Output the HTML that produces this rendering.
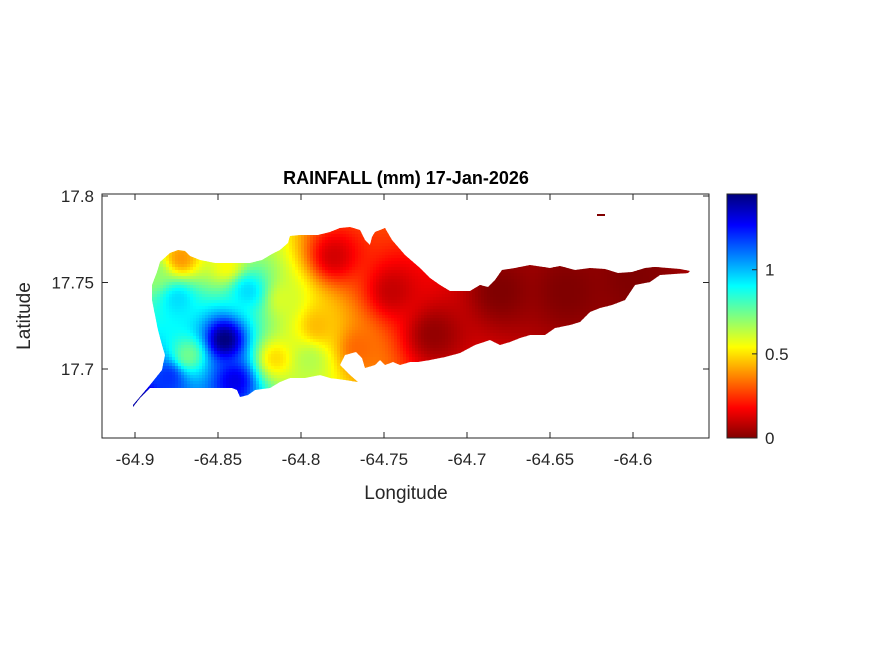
<!DOCTYPE html>
<html><head><meta charset="utf-8"><style>
body{margin:0;background:#fff;}
svg text{font-family:"Liberation Sans",Arial,sans-serif;fill:#262626;}
</style></head><body>
<svg id="chart" width="875" height="656" viewBox="0 0 875 656" xmlns="http://www.w3.org/2000/svg">
<defs><clipPath id="isl"><polygon id="islandPoly" points="133,405 150,385 162,370 165,355 162,345 158,330 155,315 152,300 152,285 157,272 160,262 170,253 178,250 185,251 190,256 200,260 215,263 232,263 250,263 262,260 272,254 280,250 288,243 290,236 300,235 318,235 330,232 340,228 350,227 360,230 365,240 370,245 372,237 375,232 385,228 392,240 405,255 420,268 430,278 440,285 450,291 470,291 480,285 488,287 495,280 502,270 515,268 530,265 550,268 560,266 575,270 590,268 605,269 618,273 632,272 645,268 655,267 668,268 680,269 690,271 688,273 660,275 650,282 635,285 625,300 612,305 600,308 590,312 580,322 570,325 555,328 545,335 530,335 520,338 510,342 500,345 490,340 475,345 460,353 445,357 430,360 418,362 410,362 400,365 393,362 385,365 380,360 375,365 365,368 362,358 356,352 345,355 340,365 350,375 358,382 345,380 330,378 320,375 305,378 290,378 280,382 270,388 255,390 248,395 240,397 237,390 232,388 160,388 150,388 140,398 133,407"/></clipPath></defs>
<rect x="102" y="194" width="607" height="244" fill="#fff" stroke="#262626" stroke-width="1"/>
<g id="cells" clip-path="url(#isl)"></g>
<rect x="597" y="214" width="8" height="2" fill="#800000"/>
<g id="axes"></g>
<text x="406" y="184" text-anchor="middle" font-size="18" font-weight="bold" style="fill:#000">RAINFALL (mm) 17-Jan-2026</text>
<text x="406" y="499" text-anchor="middle" font-size="19">Longitude</text>
<text transform="translate(30,316) rotate(-90)" text-anchor="middle" font-size="19">Latitude</text>
<g id="cbar"></g>
</svg>
<script>
const stationLon=[-64.846,-64.84,-64.896,-64.88,-64.868,-64.874,-64.832,-64.872,-64.845,-64.815,-64.795,-64.81,-64.79,-64.765,-64.78,-64.745,-64.72,-64.68,-64.64,-64.6,-64.89];
const stationLat=[17.717,17.693,17.68,17.695,17.708,17.74,17.745,17.764,17.76,17.706,17.705,17.74,17.725,17.712,17.765,17.745,17.72,17.745,17.745,17.752,17.755];
const stationVal=[1.45,1.3,1.4,1.2,0.75,0.95,0.95,0.4,0.55,0.5,0.65,0.6,0.45,0.33,0.12,0.1,0.03,0.0,0.0,0.0,0.7];
const xTicks=[-64.9,-64.85,-64.8,-64.75,-64.7,-64.65,-64.6];
const yTicks=[17.7,17.75,17.8];
const cTicks=[0,0.5,1];
const cMax=1.45;
const NS="http://www.w3.org/2000/svg";
const xS=lon=>135+(lon+64.9)*1660;
const yS=lat=>369-(lat-17.7)*1730;
const xInv=px=>(px-135)/1660-64.9;
const yInv=py=>17.7-(py-369)/1730;
function jet(t){t=Math.max(0,Math.min(1,t));
 const f=(x)=>Math.max(0,Math.min(1,1.5-Math.abs(4*t-x)));
 return `rgb(${Math.round(f(3)*255)},${Math.round(f(2)*255)},${Math.round(f(1)*255)})`;}
const cmap=t=>jet(1-t);
function val(lon,lat){let n=0,d=0;
 for(let i=0;i<stationVal.length;i++){const dx=(lon-stationLon[i]),dy=(lat-stationLat[i]);const r2=dx*dx+dy*dy+1e-7;const w=1/Math.pow(r2,1.25);n+=w*stationVal[i];d+=w;}
 return n/d;}
const cells=document.getElementById('cells');
const step=3;
for(let px=130;px<695;px+=step){for(let py=222;py<410;py+=step){
 const v=val(xInv(px+step/2),yInv(py+step/2));
 const r=document.createElementNS(NS,'rect');
 
 
 r.setAttribute('x',px);r.setAttribute('y',py);r.setAttribute('width',step+0.5);r.setAttribute('height',step+0.5);
 r.setAttribute('fill',cmap(v/cMax));cells.appendChild(r);}}
const ax=document.getElementById('axes');
function line(x1,y1,x2,y2){const l=document.createElementNS(NS,'line');l.setAttribute('x1',x1);l.setAttribute('y1',y1);l.setAttribute('x2',x2);l.setAttribute('y2',y2);l.setAttribute('stroke','#262626');return l;}
function txt(x,y,s,anchor,name){const t=document.createElementNS(NS,'text');t.setAttribute('x',x);t.setAttribute('y',y);t.setAttribute('font-size','17');t.setAttribute('text-anchor',anchor);t.textContent=s;
 
 
 return t;}
xTicks.forEach(v=>{const x=xS(v);ax.appendChild(line(x,438,x,432));ax.appendChild(line(x,194,x,200));ax.appendChild(txt(x,465,String(v),'middle','x-tick-label'));});
yTicks.forEach(v=>{const y=yS(v);ax.appendChild(line(102,y,108,y));ax.appendChild(line(709,y,703,y));ax.appendChild(txt(94,y+6,String(v),'end','y-tick-label'));});
const cb=document.getElementById('cbar');
const cy=v=>438-v*(244/cMax);
for(let i=0;i<244;i++){const r=document.createElementNS(NS,'rect');
 
 
 r.setAttribute('x',727);r.setAttribute('y',438-i-1);r.setAttribute('width',30);r.setAttribute('height',1.5);r.setAttribute('fill',cmap((i+0.5)/244));cb.appendChild(r);}
const fr=document.createElementNS(NS,'rect');fr.setAttribute('x',727);fr.setAttribute('y',194);fr.setAttribute('width',30);fr.setAttribute('height',244);fr.setAttribute('fill','none');fr.setAttribute('stroke','#262626');cb.appendChild(fr);
cTicks.forEach(v=>{const y=cy(v);cb.appendChild(line(757,y,752,y));cb.appendChild(txt(765,y+6,String(v),'start','colorbar-tick-label'));});
</script>
</body></html>
